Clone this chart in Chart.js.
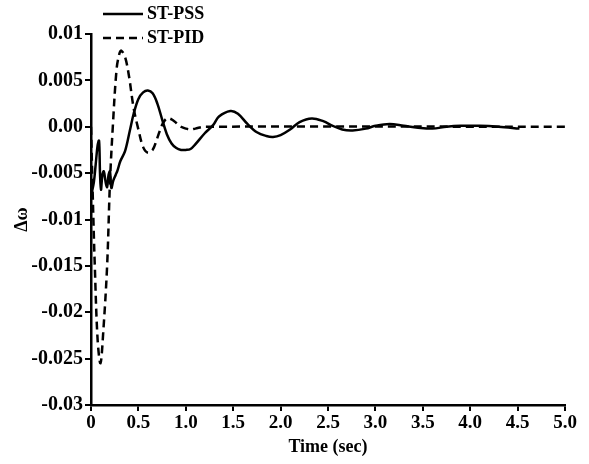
<!DOCTYPE html>
<html>
<head>
<meta charset="utf-8">
<script src="https://cdn.jsdelivr.net/npm/chart.js@4/dist/chart.umd.min.js"></script>
<style>
  html, body { margin: 0; padding: 0; background: #fff; }
  #wrap { width: 589px; height: 464px; position: relative; }
</style>
</head>
<body>
<div id="wrap"><canvas id="chart" width="589" height="464"></canvas></div>
<script>
// DATA
const seriesNames = ["ST-PSS", "ST-PID"];

const pssTime = [0, 0.03, 0.05, 0.07, 0.085, 0.095, 0.105, 0.12, 0.135, 0.155, 0.17, 0.185, 0.2, 0.215, 0.235, 0.26, 0.28, 0.31, 0.36, 0.41, 0.45, 0.5, 0.55, 0.6, 0.65, 0.7, 0.75, 0.8, 0.85, 0.9, 0.95, 1.0, 1.05, 1.1, 1.2, 1.29, 1.35, 1.47, 1.55, 1.65, 1.75, 1.85, 1.92, 2.0, 2.1, 2.2, 2.33, 2.45, 2.55, 2.65, 2.76, 2.9, 3.0, 3.15, 3.3, 3.45, 3.6, 3.75, 3.9, 4.1, 4.3, 4.52];
const pssValue = [-0.0075, -0.006, -0.004, -0.002, -0.0015, -0.005, -0.0068, -0.0052, -0.0048, -0.006, -0.0065, -0.0052, -0.0048, -0.0066, -0.0058, -0.0052, -0.0047, -0.0037, -0.0026, -0.0004, 0.0014, 0.003, 0.0037, 0.0039, 0.0036, 0.0025, 0.0008, -0.0008, -0.0018, -0.0023, -0.0025, -0.0025, -0.0024, -0.0019, -0.0007, 0.0002, 0.0011, 0.0017, 0.0014, 0.0003, -0.0006, -0.001, -0.0011, -0.0009, -0.0003, 0.0005, 0.0009, 0.0006, 0.0001, -0.0003, -0.0004, -0.0002, 0.0001, 0.0003, 0.0001, -0.0001, -0.0002, 0.0, 0.0001, 0.0001, 0.0, -0.0002];

const pidTime = [0, 0.02, 0.04, 0.07, 0.1, 0.13, 0.17, 0.2, 0.23, 0.27, 0.3, 0.32, 0.36, 0.4, 0.45, 0.5, 0.55, 0.6, 0.65, 0.7, 0.75, 0.8, 0.85, 0.9, 0.95, 1.0, 1.05, 1.1, 1.2, 5.0];
const pidValue = [0, -0.008, -0.015, -0.023, -0.0255, -0.022, -0.015, -0.006, 0.0, 0.0062, 0.0079, 0.0082, 0.0075, 0.0055, 0.002, -0.0003, -0.0022, -0.0028, -0.0025, -0.0012, 0.0002, 0.0009, 0.0008, 0.0004, 0.0, -0.0002, -0.0003, -0.0002, 0.0, 0.0];

const xTickLabels = ["0", "0.5", "1.0", "1.5", "2.0", "2.5", "3.0", "3.5", "4.0", "4.5", "5.0"];
const yTickLabels = ["-0.03", "-0.025", "-0.02", "-0.015", "-0.01", "-0.005", "0.00", "0.005", "0.01"];

const toPoints = (t, v) => t.map((x, i) => ({ x: x, y: v[i] }));

const family = "'Liberation Serif', 'Times New Roman', serif";
const xFont = { family: family, size: 19, weight: "bold" };
const yFont = { family: family, size: 20, weight: "bold" };
const titleFont = { family: family, size: 18, weight: "bold" };

// legend drawn top-left, stacked
const legendPlugin = {
  id: "stackLegend",
  afterDraw(chart) {
    const ctx = chart.ctx;
    const rows = [
      { label: seriesNames[0], y: 14, dash: [] },
      { label: seriesNames[1], y: 38, dash: [8, 5] }
    ];
    ctx.save();
    ctx.font = "bold 18px 'Liberation Serif', serif";
    ctx.fillStyle = "#000";
    ctx.strokeStyle = "#000";
    ctx.lineWidth = 2.5;
    ctx.textBaseline = "middle";
    rows.forEach(r => {
      ctx.setLineDash(r.dash);
      ctx.beginPath();
      ctx.moveTo(103, r.y);
      ctx.lineTo(143, r.y);
      ctx.stroke();
      ctx.fillText(r.label, 147, r.y);
    });
    ctx.restore();
  }
};

new Chart(document.getElementById("chart"), {
  type: "line",
  data: {
    datasets: [
      {
        label: seriesNames[0],
        data: toPoints(pssTime, pssValue),
        borderColor: "#000",
        borderWidth: 2.5,
        pointRadius: 0,
        tension: 0.35,
        fill: false
      },
      {
        label: seriesNames[1],
        data: toPoints(pidTime, pidValue),
        borderColor: "#000",
        borderWidth: 2.5,
        borderDash: [8, 5],
        pointRadius: 0,
        tension: 0.35,
        fill: false
      }
    ]
  },
  options: {
    responsive: false,
    animation: false,
    layout: { padding: { top: 34, right: 24, bottom: 0, left: 0 } },
    plugins: { legend: { display: false }, tooltip: { enabled: false } },
    scales: {
      x: {
        type: "linear",
        min: 0,
        max: 5,
        ticks: {
          stepSize: 0.5,
          color: "#000",
          font: xFont,
          padding: 1,
          maxRotation: 0,
          callback: (v, i) => xTickLabels[i]
        },
        grid: { drawOnChartArea: false, color: "#000", lineWidth: 2, tickLength: 6 },
        border: { color: "#000", width: 2.5 },
        title: { display: true, text: "Time (sec)", color: "#000", font: titleFont, padding: { top: 0, bottom: 6 } },
        afterFit: s => { s.height = 59; }
      },
      y: {
        min: -0.03,
        max: 0.01,
        ticks: {
          stepSize: 0.005,
          color: "#000",
          font: yFont,
          padding: 2,
          callback: (v, i) => yTickLabels[i]
        },
        grid: { drawOnChartArea: false, color: "#000", lineWidth: 2, tickLength: 6 },
        border: { color: "#000", width: 2.5 },
        title: { display: true, text: "Δω", color: "#000", font: titleFont, padding: { top: 12, bottom: 0 } },
        afterFit: s => { s.width = 91; }
      }
    }
  },
  plugins: [legendPlugin]
});
</script>
</body>
</html>
